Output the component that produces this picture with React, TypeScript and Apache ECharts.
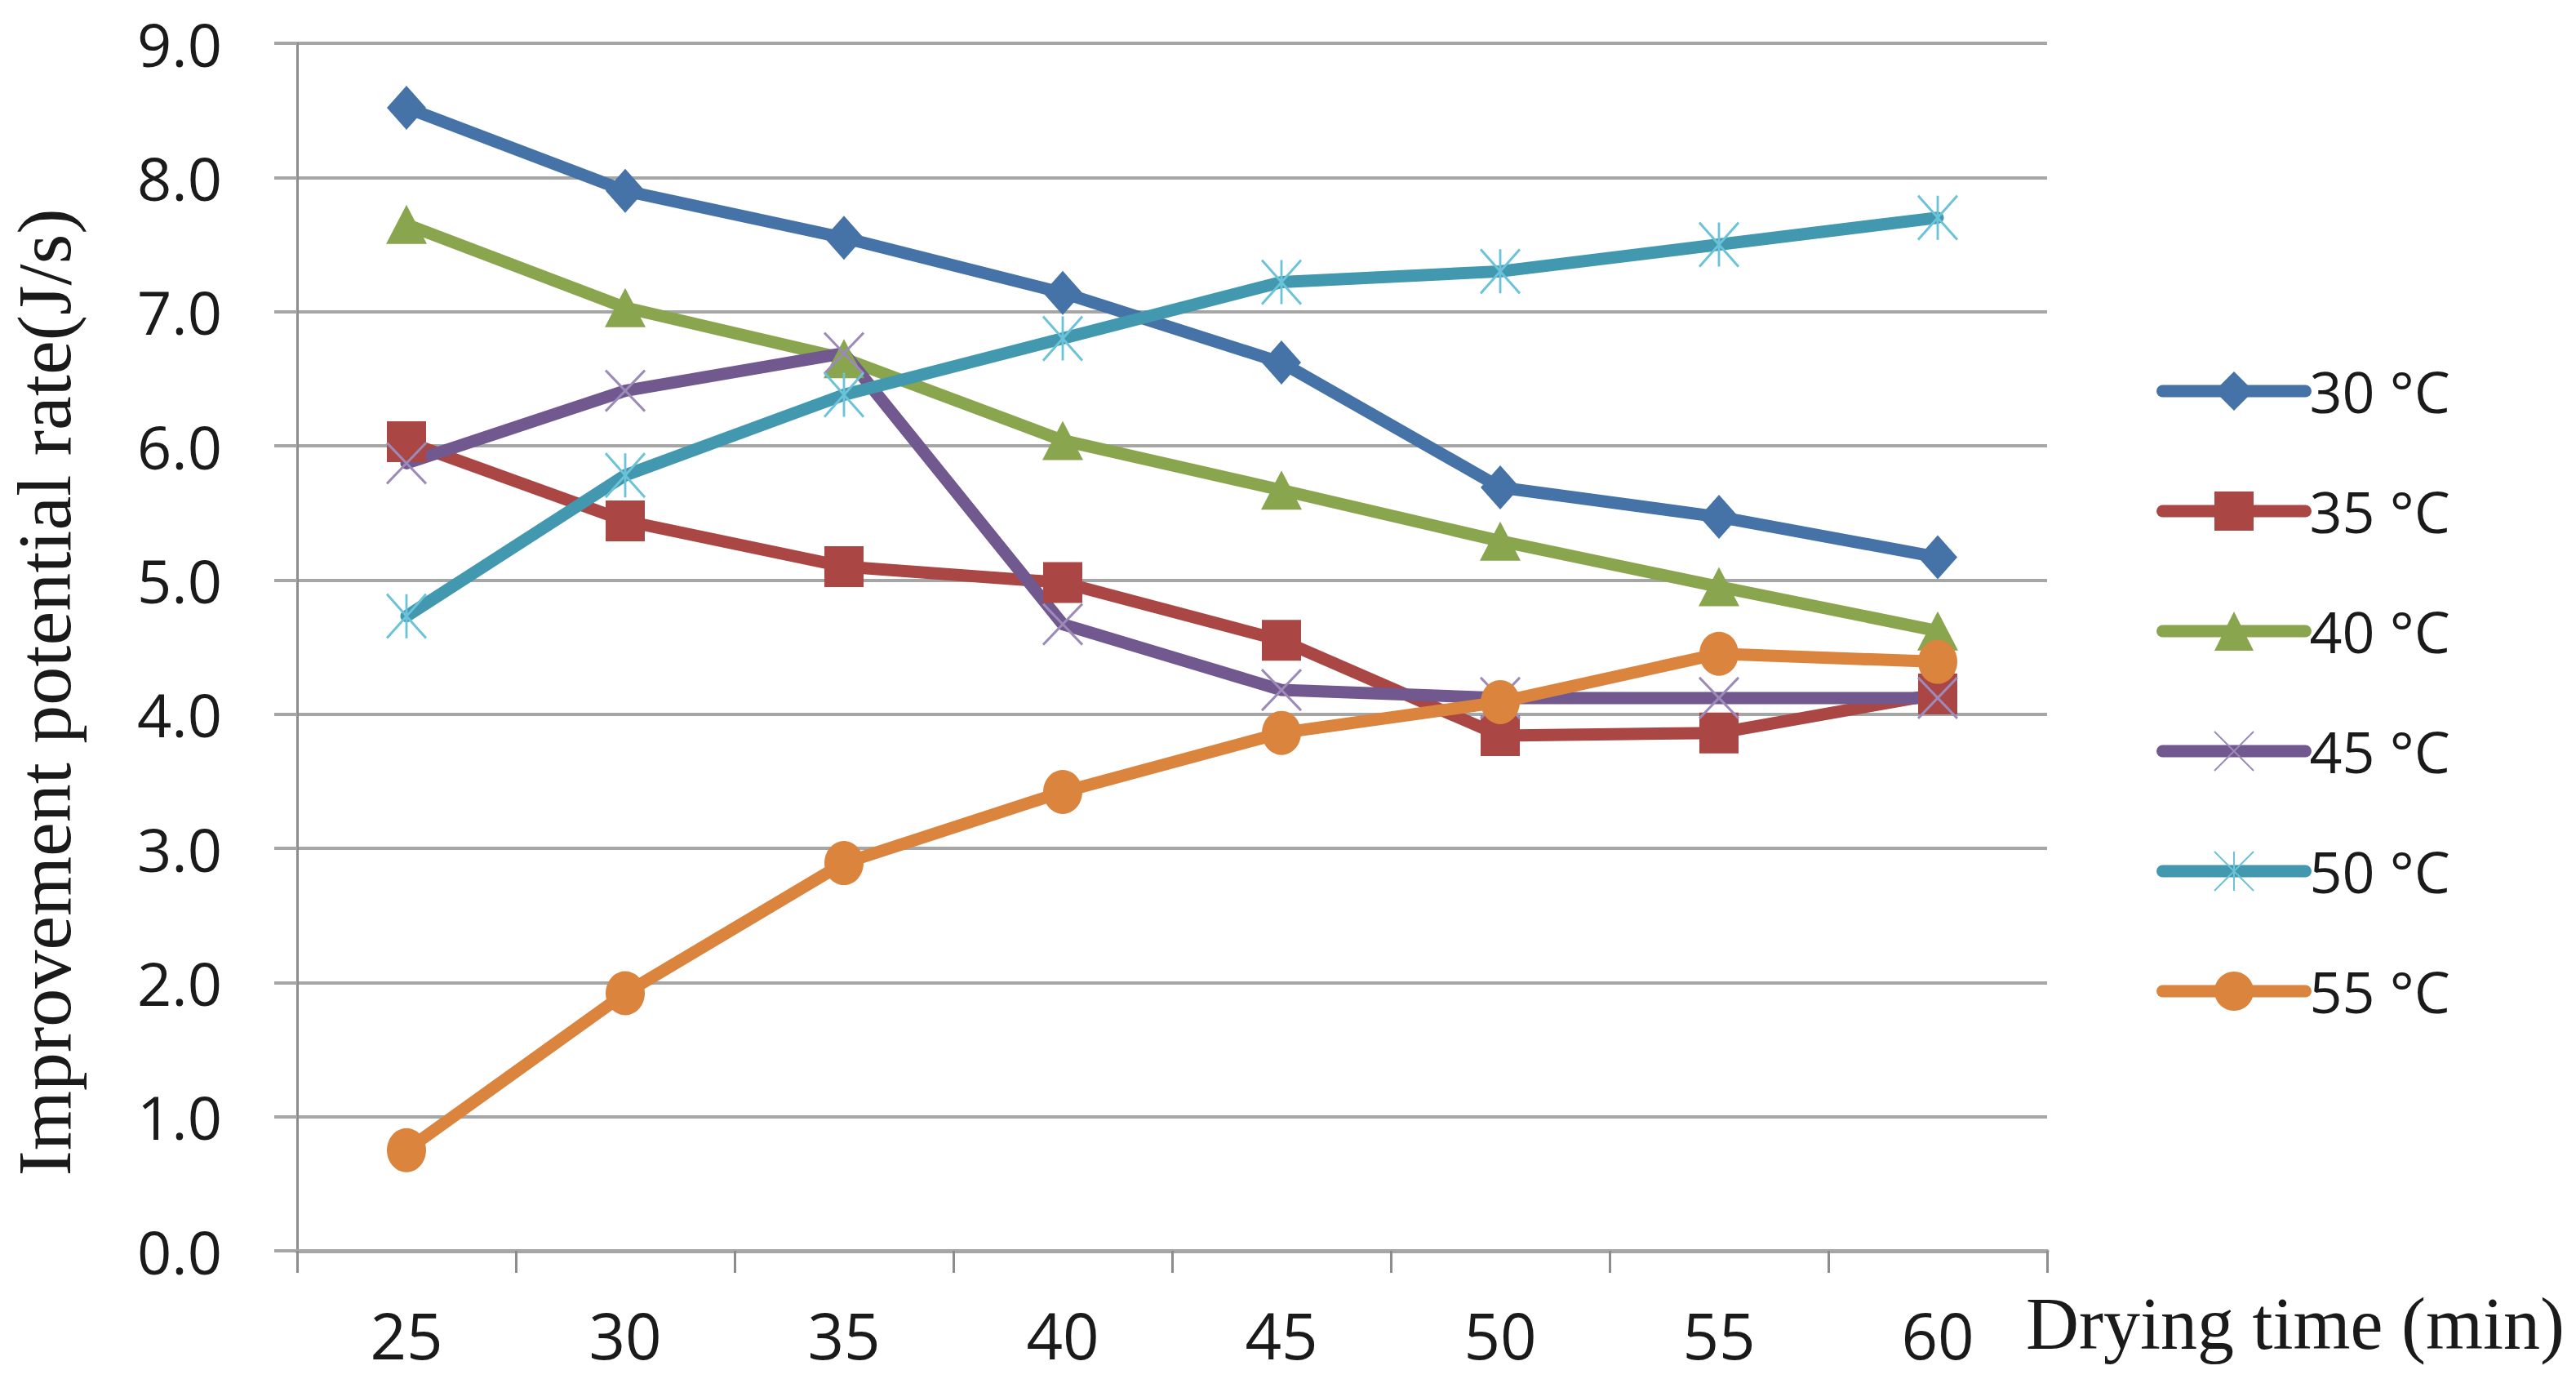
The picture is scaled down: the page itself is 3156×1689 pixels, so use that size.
import React, { useEffect, useRef } from "react";
import * as echarts from "echarts";

const categories = ["25", "30", "35", "40", "45", "50", "55", "60"];
const seriesNames = ["30 °C", "35 °C", "40 °C", "45 °C", "50 °C", "55 °C"];
const values30 = [8.52, 7.9, 7.55, 7.14, 6.62, 5.69, 5.47, 5.17];
const values35 = [6.03, 5.44, 5.1, 4.98, 4.55, 3.84, 3.86, 4.15];
const values40 = [7.65, 7.03, 6.65, 6.04, 5.67, 5.29, 4.95, 4.62];
const values45 = [5.87, 6.41, 6.69, 4.67, 4.18, 4.12, 4.12, 4.12];
const values50 = [4.73, 5.78, 6.38, 6.8, 7.22, 7.3, 7.5, 7.7];
const values55 = [0.75, 1.92, 2.89, 3.42, 3.86, 4.09, 4.45, 4.39];
const yMin = 0;
const yMax = 9;
const yInterval = 1;
const yTitle = "Improvement potential rate(J/s)";
const xTitle = "Drying time (min)";

const CROSS = "path://M0 0L10 10M10 0L0 10";
const STAR = "path://M0 0L10 10M10 0L0 10M5 0L5 10";

function mk(name: string, data: number[], color: string, symbol: string, symbolSize: any, itemExtra: any = {}) {
  return {
    type: "line",
    name,
    data,
    symbol,
    symbolSize,
    showSymbol: true,
    lineStyle: { color, width: 15, cap: "round", join: "round" },
    itemStyle: { color, ...itemExtra },
    emphasis: { disabled: true },
  };
}

export default function App() {
  const ref = useRef<HTMLDivElement>(null);
  useEffect(() => {
    const chart = echarts.init(ref.current!, null, { renderer: "svg" });
    const text = "#1a1a1a";
    chart.setOption({
      animation: false,
      backgroundColor: "#ffffff",
      grid: { left: 364, top: 53, width: 2144, height: 1479, containLabel: false },
      legend: {
        orient: "vertical",
        left: 2637,
        top: 437,
        itemWidth: 175,
        itemHeight: 60,
        itemGap: 73,
        selectedMode: false,
        lineStyle: { width: 15, cap: "round" },
        textStyle: { fontFamily: "Open Sans", fontSize: 70, lineHeight: 74, color: text },
        data: seriesNames,
      },
      xAxis: {
        type: "category",
        data: categories,
        boundaryGap: true,
        axisLine: { show: true, lineStyle: { color: "#a6a6a6", width: 5 } },
        axisTick: { show: true, length: 27, interval: 0, lineStyle: { color: "#8c8c8c", width: 3 } },
        axisLabel: { interval: 0, margin: 64, fontFamily: "Open Sans", fontSize: 78, color: text },
        splitLine: { show: false },
      },
      yAxis: {
        type: "value",
        min: yMin,
        max: yMax,
        interval: yInterval,
        axisLine: { show: true, lineStyle: { color: "#8c8c8c", width: 3 } },
        axisTick: { show: true, length: 28, lineStyle: { color: "#a6a6a6", width: 4 } },
        axisLabel: {
          margin: 92,
          formatter: (v: number) => v.toFixed(1),
          fontFamily: "Open Sans",
          fontSize: 74,
          color: text,
        },
        splitLine: { show: true, lineStyle: { color: "#a6a6a6", width: 4 } },
      },
      graphic: [
        {
          type: "text",
          x: 54,
          y: 848,
          rotation: Math.PI / 2,
          style: {
            text: yTitle,
            fontFamily: "Liberation Serif",
            fontSize: 94,
            fill: text,
            textAlign: "center",
            textVerticalAlign: "middle",
          },
        },
        {
          type: "text",
          x: 2482,
          y: 1621,
          style: {
            text: xTitle,
            fontFamily: "Liberation Serif",
            fontSize: 90,
            fill: text,
            textAlign: "left",
            textVerticalAlign: "middle",
          },
        },
      ],
      series: [
        mk(seriesNames[0], values30, "#4572A7", "diamond", [48, 54]),
        mk(seriesNames[1], values35, "#AA4643", "rect", [48, 50]),
        mk(seriesNames[2], values40, "#89A54E", "triangle", [50, 48]),
        mk(seriesNames[3], values45, "#71588F", CROSS, [48, 50], { borderColor: "#9C8AB8", borderWidth: 3 }),
        mk(seriesNames[4], values50, "#4198AF", STAR, [48, 54], { borderColor: "#6BC3D9", borderWidth: 3 }),
        mk(seriesNames[5], values55, "#DB843D", "circle", [48, 54]),
      ],
    });
    return () => chart.dispose();
  }, []);
  return (
    <div
      ref={ref}
      style={{ position: "fixed", left: 0, top: 0, width: 3156, height: 1689, background: "#fff" }}
    />
  );
}
